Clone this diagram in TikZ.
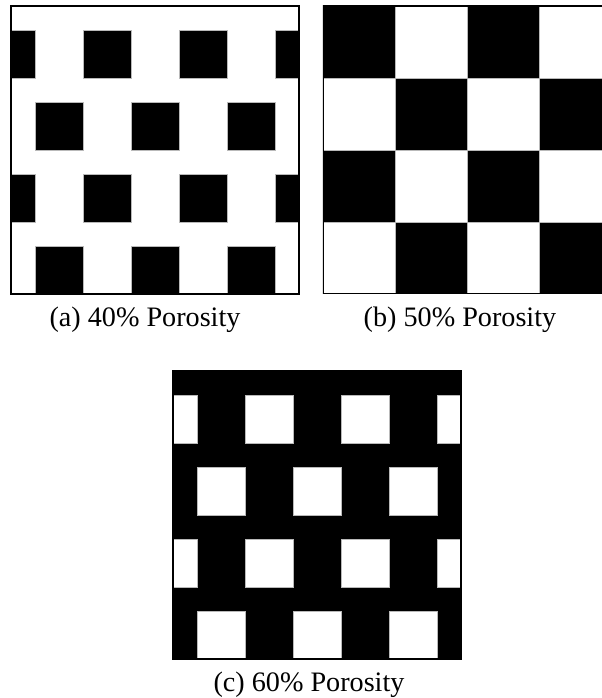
\documentclass[tikz,border=0pt]{standalone}
\usepackage{fontspec}
\setmainfont{Liberation Serif}

\begin{document}
\begin{tikzpicture}[x=1cm,y=1cm]

% Canvas (602x698 px at 48 px per cell -> 12.54 x 14.54)
\useasboundingbox (0,0) rectangle (12.5417,14.5417);

% Lower-left corners of the three panels (each panel is 6x6 cells)
\coordinate (fortyCorner) at (0.229, 8.417);
\coordinate (fiftyCorner) at (6.729, 8.417);
\coordinate (sixtyCorner) at (3.604, 0.8125);

% Panel border and caption look
\def\framewidth{1.1pt}
\tikzset{
  tile/.style={draw=gray!55, line width=0.4pt},
  caption/.style={inner sep=0pt, font=\fontsize{16.7pt}{20pt}\selectfont}
}

% --- Staggered square pattern ---
% #1  Lower-left corner of the panel
% #2  Background colour
% #3  Square colour
\newcommand{\drawstaggered}[3]{
  \begin{scope}[shift={(#1)}]
    \fill[#2] (0,0) rectangle (6,6);
    \begin{scope}
      \clip (0,0) rectangle (6,6);
      % rows 1 and 3 (counted from the top), cut at the sides
      \foreach \y in {4.5,1.5} {
        \foreach \x in {-0.5,1.5,3.5,5.5}
          \fill[#3, tile] (\x,\y) rectangle ++(1,1);
      }
      % rows 2 and 4, shifted by one cell
      \foreach \y in {3,0} {
        \foreach \x in {0.5,2.5,4.5}
          \fill[#3, tile] (\x,\y) rectangle ++(1,1);
      }
    \end{scope}
    \draw[line width=\framewidth] (0,0) rectangle (6,6);
  \end{scope}
}

% --- Draw Panels ---

% Panel (a): black squares on white
\drawstaggered{fortyCorner}{white}{black}

% Panel (b): 4x4 checkerboard, right side cut by the page edge
\begin{scope}[shift={(fiftyCorner)}]
  \clip (0,0) rectangle (5.8127,6.1);
  \foreach \i in {0,...,3} {
    \foreach \j in {0,...,3} {
      \pgfmathsetmacro{\cellcol}{mod(\i+\j,2)==0 ? "black" : "white"}
      \fill[\cellcol, tile] (1.5*\i, 4.5-1.5*\j) rectangle ++(1.5,1.5);
    }
  }
  \draw[line width=\framewidth] (0,0) rectangle (6,6);
\end{scope}

% Panel (c): white squares on black
\drawstaggered{sixtyCorner}{black}{white}

% --- Captions ---
\node[caption] (fortyCap) at (3.021, 7.875) {(a) 40\% Porosity};
\node[caption] (fiftyCap) at (9.583, 7.875) {(b) 50\% Porosity};
\node[caption] (sixtyCap) at (6.4375, 0.28) {(c) 60\% Porosity};

\end{tikzpicture}
\end{document}
